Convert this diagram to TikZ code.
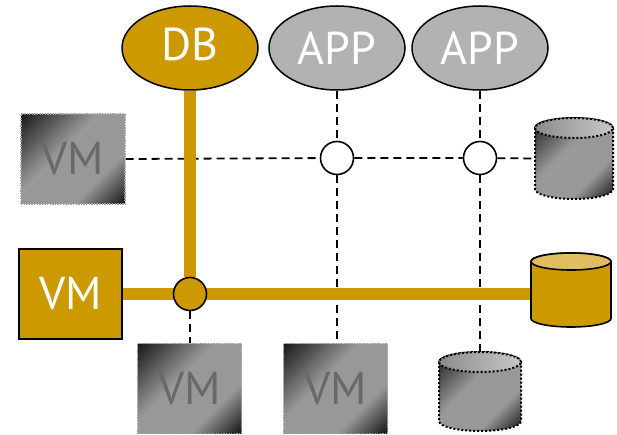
\documentclass[tikz,border=0pt]{standalone}
\usepackage{fontspec}
\setmainfont{PT Sans}
\usetikzlibrary{shapes.geometric,backgrounds}
\definecolor{gold}{RGB}{204,153,0}
\definecolor{goldtop}{RGB}{224,190,96}
\definecolor{appgray}{RGB}{178,178,178}
\definecolor{vmtext}{RGB}{105,105,105}
\definecolor{shdark}{RGB}{22,22,22}
\definecolor{shlight}{RGB}{152,152,152}
\definecolor{lidlight}{RGB}{200,200,200}
\definecolor{liddark}{RGB}{140,140,140}

% brushed metal: diagonal strips from the top-left corner (#1,#2),
% dark corners and a light middle band; #3 = width + height covered
\newcommand\brushed[3]{%
  \foreach \k in {0,...,47}{%
    \pgfmathsetmacro\tpos{(\k+0.5)/48}%
    \pgfmathsetmacro\mixp{\tpos<0.4 ? 100*\tpos/0.4 : (\tpos>0.74 ? 100*(1-\tpos)/0.26 : 100)}%
    \pgfmathsetmacro\ca{(#1)+\k*(#3)/48}%
    \pgfmathsetmacro\cb{(#1)+(\k+1)*(#3)/48+0.6}%
    \pgfmathsetmacro\ytop{#2}%
    \fill[shlight!\mixp!shdark] (\ca,\ytop) -- (\cb,\ytop) -- (\cb-300,\ytop-300) -- (\ca-300,\ytop-300) -- cycle;
  }%
}

% outline of a drum: #1 centre x, #2 lid centre y, #3 x radius,
% #4 body height, #5 y radius
\newcommand\drumpath[5]{(#1-#3,#2) -- (#1-#3,#2-#4)
    arc[start angle=180,end angle=360,x radius=#3pt,y radius=#5pt]
    -- (#1+#3,#2)
    arc[start angle=0,end angle=180,x radius=#3pt,y radius=#5pt] -- cycle}

\newcommand\metaldrum[5]{%
  \begin{scope}
    \clip \drumpath{#1}{#2}{#3}{#4}{#5};
    \brushed{#1-#3}{#2+#5}{2*#3+#4+2*#5}
  \end{scope}
  \draw[drumline] \drumpath{#1}{#2}{#3}{#4}{#5};
  \path[drumlid] (#1,#2) ellipse[x radius=#3pt,y radius=#5pt];
}

\newcommand\golddrum[5]{%
  \path[goldbody] \drumpath{#1}{#2}{#3}{#4}{#5};
  \path[goldlid] (#1,#2) ellipse[x radius=#3pt,y radius=#5pt];
}

% brushed square behind a VM box: centre (#1,#2), size #3 x #4
\newcommand\metalbox[4]{%
  \begin{scope}
    \clip (#1-#3/2,#2+#4/2) rectangle (#1+#3/2,#2-#4/2);
    \brushed{#1-#3/2}{#2+#4/2}{#3+#4}
  \end{scope}
}

\tikzset{
  big/.style={font=\fontsize{46}{50}\selectfont},
  service/.style={ellipse, draw=black, line width=1.5pt, minimum width=136pt,
    minimum height=84pt, inner sep=0pt, text=white, big},
  dbnode/.style={service, fill=gold},
  appnode/.style={service, fill=appgray},
  vmgray/.style={rectangle, draw=gray!75, line width=1.3pt,
    dash pattern=on 1.3pt off 1.3pt, minimum width=104pt,
    minimum height=90pt, inner sep=0pt, text=vmtext, big},
  vmgold/.style={rectangle, draw=black, line width=1.6pt, fill=gold,
    minimum width=103pt, minimum height=90pt, inner sep=0pt, text=white, big},
  hub/.style={circle, draw=black, line width=1.6pt, minimum size=33pt,
    inner sep=0pt, fill=white},
  hubgold/.style={hub, fill=gold},
  net/.style={draw=black, line width=1.8pt, dash pattern=on 8pt off 5pt},
  goldlink/.style={draw=gold, line width=12pt},
  drumframe/.style={rectangle, inner sep=0pt},
  drumline/.style={draw=black, line width=2pt, dash pattern=on 2pt off 2pt},
  drumlid/.style={left color=liddark, right color=lidlight, drumline},
  goldbody/.style={fill=gold, draw=black, line width=1.6pt},
  goldlid/.style={fill=goldtop, draw=black, line width=1.6pt},
}

\begin{document}
\begin{tikzpicture}[x=1pt,y=1pt]
  \useasboundingbox (0,0) rectangle (617,-435);
  \begin{pgfonlayer}{background}
    \path[fill=white] (0,0) rectangle (617,-435);
  \end{pgfonlayer}

  % services on top
  \node[dbnode]  (db)   at (190,-48) {\raisebox{7pt}{DB}};
  \node[appnode] (app1) at (337,-48) {APP};
  \node[appnode] (app2) at (480,-48) {APP};

  % virtual machines
  \metalbox{73}{-159}{104}{90}
  \metalbox{189.5}{-388.5}{104}{90}
  \metalbox{335.5}{-388.5}{104}{90}
  \node[vmgray] (vmTL) at (73,-159)      {\raisebox{-8pt}{VM}};
  \node[vmgold] (vmG)  at (70.5,-294)    {\raisebox{-9pt}{VM}};
  \node[vmgray] (vmB1) at (189.5,-388.5) {\raisebox{-8pt}{VM}};
  \node[vmgray] (vmB2) at (335.5,-388.5) {\raisebox{-8pt}{VM}};

  % storage drums
  \metaldrum{574}{-128}{39}{61}{10}
  \golddrum{571}{-261.5}{40}{57}{8.5}
  \metaldrum{480}{-362}{41}{59}{10}
  \node[drumframe, minimum width=78pt, minimum height=81pt] (dskA) at (574,-158.5) {};
  \node[drumframe, minimum width=80pt, minimum height=74pt] (dskG) at (571,-290) {};
  \node[drumframe, minimum width=82pt, minimum height=79pt] (dskB) at (480,-391.5) {};

  % junctions
  \node[hub]     (hub1) at (337,-158) {};
  \node[hub]     (hub2) at (480,-158) {};
  \node[hubgold] (hubG) at (190,-294) {};

  \begin{pgfonlayer}{background}
    \draw[net] (vmTL.east) -- (hub1) -- (hub2) -- (dskA.west);
    \draw[net] (app1.south) -- (hub1) -- (hub1 |- vmB2.north);
    \draw[net] (app2.south) -- (hub2) -- (dskB.north);
    \draw[net] (hubG) -- (hubG |- vmB1.north);
    \draw[goldlink] (db.south) -- (hubG);
    \draw[goldlink] (vmG.east) -- (vmG.east -| dskG.west);
  \end{pgfonlayer}
\end{tikzpicture}
\end{document}
